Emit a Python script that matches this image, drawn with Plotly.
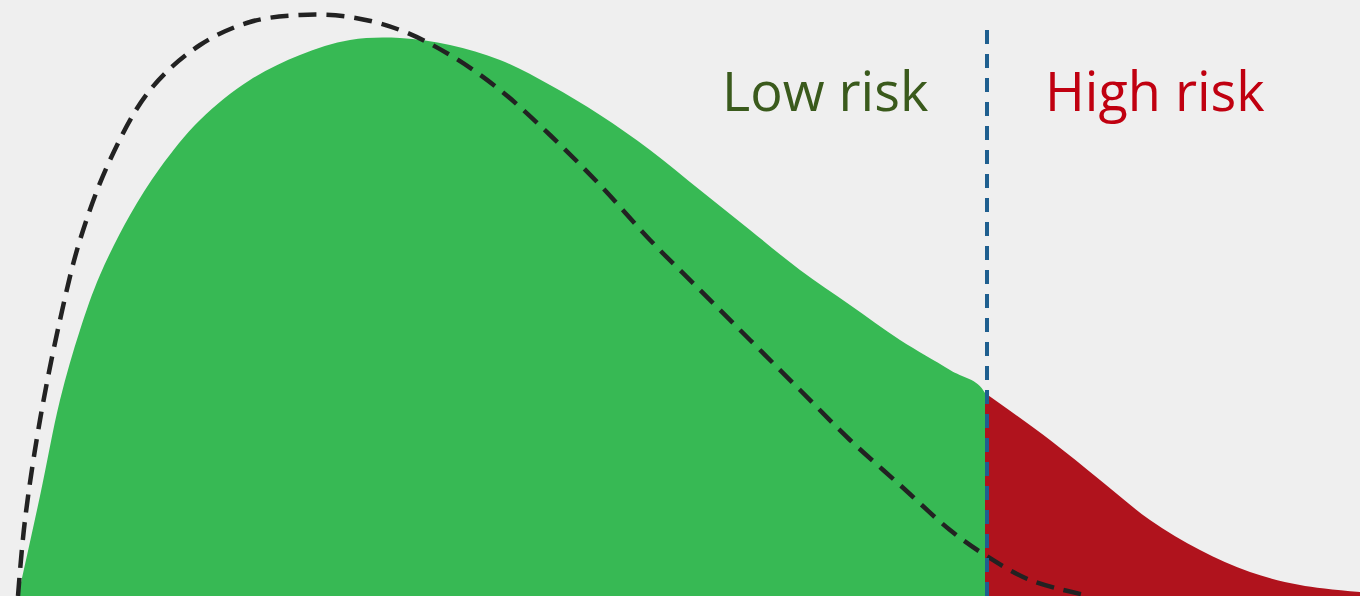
import plotly.graph_objects as go

# curve samples (x in px, height above bottom in px)
curve_x = [18, 40, 60, 80, 100, 130, 160, 200, 250, 300, 350, 400, 450, 500, 550, 600,
           650, 700, 750, 800, 850, 900, 950, 985, 1050, 1100, 1150, 1200, 1250, 1300, 1360]
curve_h = [0, 100, 196, 266, 321, 381, 428, 476, 516, 541, 556, 558, 551, 536, 511, 481,
           446, 406, 366, 326, 291, 256, 226, 203, 156, 116, 76, 46, 24, 11, 4]

dash_x = [18, 25, 40, 60, 80, 110, 150, 200, 250, 300, 350, 400, 450, 500, 550, 600,
          650, 700, 750, 800, 850, 900, 950, 985, 1030, 1090]
dash_h = [0, 76, 176, 276, 356, 436, 506, 551, 574, 581, 579, 566, 541, 506, 461, 411,
          356, 306, 256, 206, 156, 111, 66, 41, 16, 0]

cutoff = 985

low_x = [x for x in curve_x if x <= cutoff]
low_h = curve_h[:len(low_x)]
high_x = [x for x in curve_x if x >= cutoff]
high_h = curve_h[len(curve_x) - len(high_x):]

fig = go.Figure()
fig.add_trace(go.Scatter(x=low_x + [cutoff], y=low_h + [0], mode="lines", line=dict(width=0, shape="spline"),
                         fill="tozeroy", fillcolor="#37b954"))
fig.add_trace(go.Scatter(x=high_x, y=high_h, mode="lines", line=dict(width=0, shape="spline"),
                         fill="tozeroy", fillcolor="#b0131d"))
fig.add_trace(go.Scatter(x=dash_x, y=dash_h, mode="lines",
                         line=dict(color="#222222", width=4.5, dash="18px,10px", shape="spline")))
fig.add_shape(type="line", x0=987, x1=987, y0=0, y1=576,
              line=dict(color="#1f5f8f", width=4, dash="14px,10px"))
fig.add_annotation(x=825, y=506, text="Low risk", showarrow=False,
                   font=dict(size=54, color="#3a5a1c", family="Open Sans"))
fig.add_annotation(x=1155, y=506, text="High risk", showarrow=False,
                   font=dict(size=54, color="#c00010", family="Open Sans"))

fig.update_layout(
    width=1360, height=596,
    margin={"r": 0, "t": 0, "l": 0, "b": 0},
    paper_bgcolor="#efefef", plot_bgcolor="#efefef",
    showlegend=False,
    xaxis=dict(range=[0, 1360], visible=False),
    yaxis=dict(range=[0, 596], visible=False),
)
fig.write_html("out.html", config={"displayModeBar": False},
               post_script="document.body.style.margin='0';document.body.style.background='#efefef';")
